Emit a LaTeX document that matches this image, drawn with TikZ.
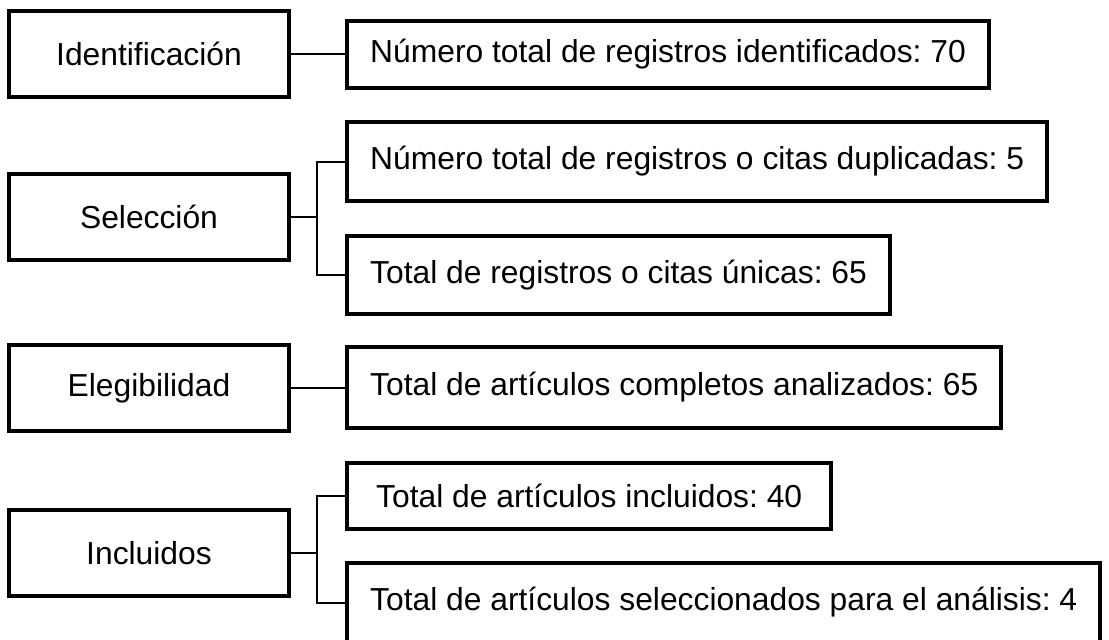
\documentclass[tikz,border=0pt]{standalone}
\usepackage{fontspec}
\setmainfont{Liberation Sans}
\frenchspacing
\begin{document}
\begin{tikzpicture}[x=0.5pt,y=-0.5pt,line join=miter,
	fase/.style={draw,line width=1.8pt,minimum width=140pt,minimum height=43pt,inner sep=0pt},
	dato/.style={draw,line width=2.2pt,anchor=west,inner xsep=11.5pt,inner ysep=0pt},
	enlace/.style={line width=1pt}]
	\useasboundingbox (0,0) rectangle (1109,639);
	\fontsize{15.9}{19}\selectfont
	% fases
	\node[fase] (ident) at (149,54) {Identificación};
	\node[fase] (sel) at (149,217) {Selección};
	\node[fase] (eleg) at (149,388) {Elegibilidad};
	\node[fase] (incl) at (149,553) {Incluidos};
	% datos
	\node[dato,minimum height=33.5pt] (a1) at (345,54.5) {Número total de registros identificados: 70};
	\node[dato,minimum height=39.5pt] (s1) at (345,161.5) {Número total de registros o citas duplicadas: 5};
	\node[dato,minimum height=39pt] (s2) at (345,275) {Total de registros o citas únicas: 65};
	\node[dato,minimum height=40.5pt] (e1) at (345,387.5) {Total de artículos completos analizados: 65};
	\node[dato,minimum height=33pt,minimum width=242pt] (i1) at (345,496) {Total de artículos incluidos: 40};
	\node[dato,minimum height=39.5pt] (i2) at (345,602.5) {Total de artículos seleccionados para el análisis: 4};
	% enlaces
	\coordinate (selj) at (317,217);
	\coordinate (inclj) at (317,553);
	\draw[enlace] (ident.east) -- (ident.east-|a1.west);
	\draw[enlace] (sel.east) -- (selj);
	\draw[enlace] (s1.west) -| (selj) |- (s2.west);
	\draw[enlace] (eleg.east) -- (eleg.east-|e1.west);
	\draw[enlace] (incl.east) -- (inclj);
	\draw[enlace] (i1.west) -| (inclj) |- (i2.west);
\end{tikzpicture}
\end{document}
